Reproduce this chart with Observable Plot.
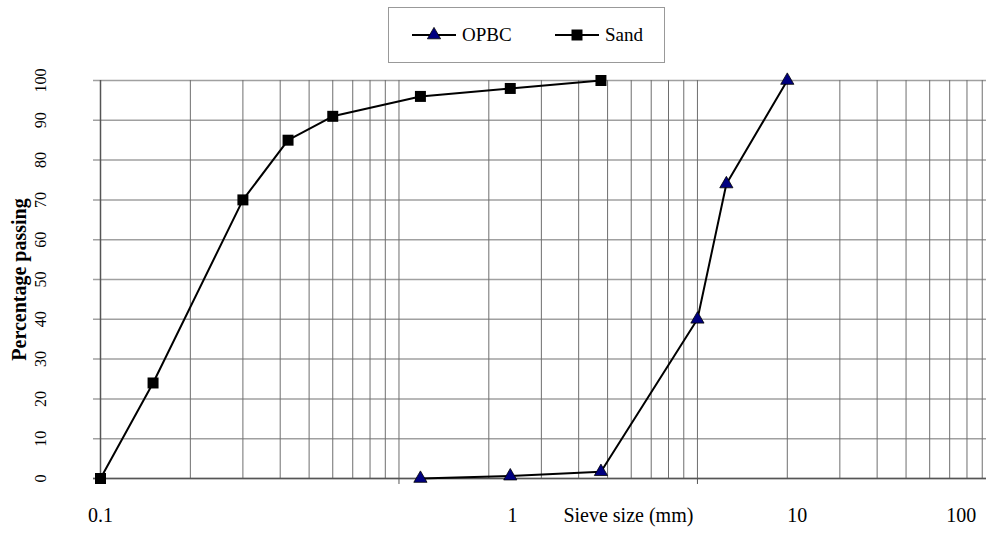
<!DOCTYPE html>
<html><head><meta charset="utf-8">
<script src="https://cdn.jsdelivr.net/npm/d3@7"></script>
<script src="https://cdn.jsdelivr.net/npm/@observablehq/plot@0.6"></script>
<style>
body{margin:0;background:#fff;font-family:"Liberation Serif","Times New Roman",serif;}
#wrap{width:986px;height:534px;position:relative;}
#legend{position:absolute;left:0;top:0;width:986px;height:70px;z-index:2;}
#legend .box{position:absolute;left:388px;top:7px;width:277px;height:56px;border:1.5px solid #999;box-sizing:border-box;background:#fff;}
#legend .item{position:absolute;height:56px;display:flex;align-items:center;font-size:19px;color:#000;}
#legend svg{display:block;}
#chart svg{display:block;}
</style></head><body>
<div id="wrap"><div id="chart"></div><div id="legend"><div class="box"></div></div></div>
<script>
// Data
const sandSize = [0.1, 0.15, 0.3, 0.425, 0.6, 1.18, 2.36, 4.75];
const sandPass = [0, 24, 70, 85, 91, 96, 98, 100];
const opbcSize = [1.18, 2.36, 4.75, 10, 12.5, 20];
const opbcPass = [0, 0.6, 1.7, 40, 74, 100];
const seriesNames = ["OPBC", "Sand"];
const yTicks = [0, 10, 20, 30, 40, 50, 60, 70, 80, 90, 100];
const xLabelText = ["0.1", "1", "Sieve size (mm)", "10", "100"];
const xLabelAt = [0.1, 2.4, 5.87, 21.6, 76.6]; // where the labels sit on the chart (data units)

const sand = sandSize.map((s, i) => ({size: s, pass: sandPass[i]}));
const opbc = opbcSize.map((s, i) => ({size: s, pass: opbcPass[i]}));

const xDomain = [0.1, 93];
const gridX = [];
for (const d of [0.1, 1, 10]) for (let k = 1; k < 10; k++) { const v = +(d * k).toFixed(3); if (v > 0.1 && v <= xDomain[1]) gridX.push(v); }

const chart = Plot.plot({
  width: 986,
  height: 534,
  marginLeft: 100,
  marginRight: 0,
  marginTop: 80,
  marginBottom: 56,
  style: {fontFamily: "Liberation Serif, Times New Roman, serif", background: "white", color: "black"},
  x: {type: "log", domain: xDomain, axis: null},
  y: {domain: [0, 100], axis: null},
  marks: [
    Plot.ruleY(yTicks, {stroke: "#a0a0a0", strokeWidth: 1.5, insetLeft: -7}),
    Plot.ruleX(gridX, {y1: 0, y2: 100, stroke: "#6e6e6e", strokeWidth: 1}),
    Plot.ruleY([0], {stroke: "#555", strokeWidth: 1.3, insetLeft: -7}),
    Plot.ruleX([0.1], {y1: 0, y2: 100, stroke: "#555", strokeWidth: 1.5}),
    Plot.ruleX([1, 10], {y1: 0, y2: -1.5, stroke: "#555", strokeWidth: 1}),
    Plot.line(sand, {x: "size", y: "pass", stroke: "black", strokeWidth: 2}),
    Plot.line(opbc, {x: "size", y: "pass", stroke: "black", strokeWidth: 2}),
    Plot.dot(sand, {x: "size", y: "pass", symbol: "square", r: 6.2, fill: "black", stroke: "none"}),
    Plot.dot(opbc, {x: "size", y: "pass", symbol: "triangle", r: 4.9, fill: "#000080", stroke: "black", strokeWidth: 0.8}),
    Plot.text(d3.range(xLabelText.length), {x: i => xLabelAt[i], text: i => xLabelText[i], frameAnchor: "bottom", textAnchor: "middle", dy: 43, fontSize: 20, fill: "black"}),
    Plot.text(yTicks, {y: d => d, text: d => String(d), frameAnchor: "left", textAnchor: "middle", dx: -60, rotate: -90, fontSize: 16, fill: "black"}),
    Plot.text(["Percentage passing"], {frameAnchor: "left", textAnchor: "middle", dx: -81, rotate: -90, fontWeight: "bold", fontSize: 20, fill: "black"})
  ]
});
document.getElementById("chart").appendChild(chart);

// Legend
const legend = document.getElementById("legend");
const items = [
  {name: seriesNames[0], symbol: d3.symbolTriangle, size: Math.PI * 4.9 * 4.9, fill: "#000080", stroke: "black", left: 412},
  {name: seriesNames[1], symbol: d3.symbolSquare, size: Math.PI * 6.2 * 6.2, fill: "black", stroke: "none", left: 555}
];
for (const it of items) {
  const div = document.createElement("div");
  div.className = "item";
  div.style.left = it.left + "px";
  div.style.top = "7px";
  const svg = d3.create("svg").attr("width", 46).attr("height", 20);
  svg.append("line").attr("x1", 0).attr("x2", 44).attr("y1", 10).attr("y2", 10).attr("stroke", "black").attr("stroke-width", 2);
  svg.append("path").attr("transform", "translate(22,10)").attr("d", d3.symbol(it.symbol, it.size)()).attr("fill", it.fill).attr("stroke", it.stroke).attr("stroke-width", 0.8);
  div.appendChild(svg.node());
  const span = document.createElement("span");
  span.textContent = it.name;
  span.style.marginLeft = "4px";
  div.appendChild(span);
  legend.appendChild(div);
}
</script>
</body></html>
